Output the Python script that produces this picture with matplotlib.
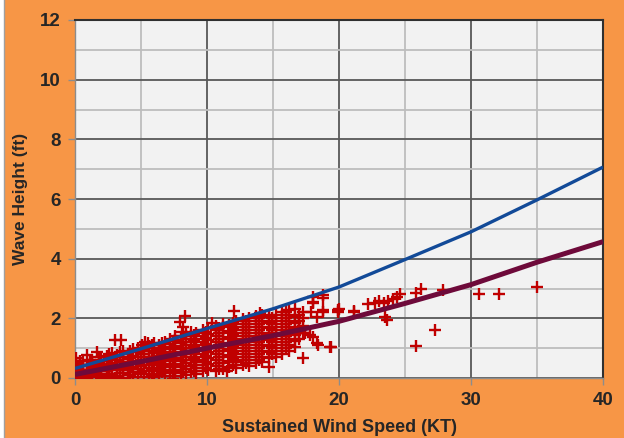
import matplotlib
matplotlib.use("Agg")
import matplotlib.pyplot as plt
from matplotlib.patches import Rectangle
from matplotlib.lines import Line2D

obs_speed = [
    0.1, 0.1, 0.1, 0.1, 0.1,
    0.6, 0.6, 0.6, 0.6, 0.6,
    0.9, 0.9, 0.9, 0.9,
    1.3, 1.3, 1.3, 1.3, 1.3,
    1.64, 1.64, 1.64, 1.64,
    2.0, 2.0, 2.0, 2.0, 2.0,
    2.4, 2.4, 2.4, 2.4, 2.4,
    2.8, 2.8, 2.8, 2.8, 2.8, 2.8,
    3.0, 3.5,
    3.2, 3.2, 3.2, 3.2, 3.2,
    3.6, 3.6, 3.6, 3.6, 3.6, 3.6,
    4.0, 4.0, 4.0, 4.0, 4.0,
    4.4, 4.4, 4.4, 4.4, 4.4, 4.4,
    4.8, 4.8, 4.8, 4.8, 4.8, 4.8,
    5.05, 5.3, 5.55,
    5.2, 5.2, 5.2, 5.2, 5.2, 5.2,
    5.6, 5.6, 5.6, 5.6, 5.6, 5.6,
    6.0, 6.0, 6.0, 6.0, 6.0, 6.0, 6.0,
    6.4, 6.4, 6.4, 6.4, 6.4, 6.4,
    6.8, 6.8, 6.8, 6.8, 6.8, 6.8, 6.8,
    7.2, 7.2, 7.2, 7.2, 7.2, 7.2, 7.2,
    7.45,
    7.6, 7.6, 7.6, 7.6, 7.6, 7.6, 7.6, 7.6,
    7.95, 8.2, 8.33, 8.1,
    8.0, 8.0, 8.0, 8.0, 8.0, 8.0, 8.0,
    8.4, 8.4, 8.4, 8.4, 8.4, 8.4, 8.4, 8.4,
    8.8, 8.8, 8.8, 8.8, 8.8, 8.8, 8.8, 8.8,
    9.2, 9.2, 9.2, 9.2, 9.2, 9.2, 9.2, 9.2,
    9.7, 9.7, 9.7, 9.7, 9.7, 9.7, 9.7, 9.7,
    10.1, 10.1, 10.1, 10.1, 10.1, 10.1, 10.1, 10.1,
    10.4,
    10.7, 10.7, 10.7, 10.7, 10.7, 10.7, 10.7, 10.7, 10.7,
    11.2, 11.2, 11.2, 11.2, 11.2, 11.2, 11.2, 11.2, 11.2,
    11.5,
    11.7, 11.7, 11.7, 11.7, 11.7, 11.7, 11.7, 11.7,
    12.05,
    12.2, 12.2, 12.2, 12.2, 12.2, 12.2, 12.2, 12.2, 12.2,
    12.7, 12.7, 12.7, 12.7, 12.7, 12.7, 12.7, 12.7, 12.7,
    13.2, 13.2, 13.2, 13.2, 13.2, 13.2, 13.2, 13.2, 13.2,
    13.7, 13.7, 13.7, 13.7, 13.7, 13.7, 13.7, 13.7, 13.7,
    14.0,
    14.2, 14.2, 14.2, 14.2, 14.2, 14.2, 14.2, 14.2, 14.2,
    14.7, 14.7, 14.7, 14.7, 14.7, 14.7, 14.7, 14.7, 14.7,
    15.2, 15.2, 15.2, 15.2, 15.2, 15.2, 15.2, 15.2,
    15.7, 15.7, 15.7, 15.7, 15.7, 15.7, 15.7, 15.7,
    16.2, 16.2, 16.2, 16.2, 16.2, 16.2, 16.2, 16.2,
    16.7, 16.7, 16.7, 16.7, 16.7, 16.7, 16.7,
    17.3, 17.3, 17.3, 17.3, 17.3,
    17.4, 17.8, 17.9, 18.05, 18.05, 18.05, 18.05, 18.3, 18.3, 18.4,
    18.8, 18.8, 18.8, 18.8, 19.3, 19.4, 19.95, 19.95, 20.0,
    21.1, 21.1, 22.2, 22.7, 23.0, 23.4, 23.5, 23.6, 23.7, 24.1,
    24.4, 24.6, 25.8, 25.8, 26.2, 27.3, 27.85, 30.6, 32.1, 35.0,
    # filler readings between the columns above (dense core)
    0.35, 0.35, 0.35, 0.35,
    1.1, 1.1, 1.1, 1.1,
    1.85, 1.85, 1.85, 1.85, 1.85,
    2.6, 2.6, 2.6, 2.6, 2.6,
    3.4, 3.4, 3.4, 3.4, 3.4,
    4.2, 4.2, 4.2, 4.2, 4.2,
    5.0, 5.0, 5.0, 5.0, 5.0,
    5.8, 5.8, 5.8, 5.8, 5.8, 5.8,
    6.6, 6.6, 6.6, 6.6, 6.6, 6.6,
    7.4, 7.4, 7.4, 7.4, 7.4, 7.4,
    8.2, 8.2, 8.2, 8.2, 8.2, 8.2, 8.2,
    9.0, 9.0, 9.0, 9.0, 9.0, 9.0, 9.0,
    9.9, 9.9, 9.9, 9.9, 9.9, 9.9, 9.9,
    10.9, 10.9, 10.9, 10.9, 10.9, 10.9, 10.9, 10.9,
    11.95, 11.95, 11.95, 11.95, 11.95, 11.95, 11.95, 11.95,
    12.95, 12.95, 12.95, 12.95, 12.95, 12.95, 12.95, 12.95,
    13.95, 13.95, 13.95, 13.95, 13.95, 13.95, 13.95, 13.95,
    14.95, 14.95, 14.95, 14.95, 14.95, 14.95, 14.95,
    15.95, 15.95, 15.95, 15.95, 15.95, 15.95, 15.95,
    17.0, 17.0, 17.0, 17.0, 17.0,
]
obs_height = [
    0.05, 0.2, 0.35, 0.5, 0.66,
    0.0, 0.12, 0.28, 0.42, 0.58,
    0.08, 0.22, 0.4, 0.77,
    0.02, 0.18, 0.33, 0.5, 0.62,
    0.1, 0.26, 0.45, 0.88,
    0.0, 0.15, 0.3, 0.48, 0.7,
    0.06, 0.22, 0.4, 0.56, 0.74,
    0.0, 0.14, 0.32, 0.5, 0.66, 0.85,
    1.27, 1.27,
    0.08, 0.26, 0.44, 0.6, 0.78,
    0.0, 0.18, 0.36, 0.54, 0.72, 0.9,
    0.1, 0.28, 0.46, 0.64, 0.82,
    0.02, 0.2, 0.38, 0.56, 0.74, 0.96,
    0.12, 0.3, 0.5, 0.7, 0.88, 1.02,
    1.1, 1.22, 1.16,
    0.04, 0.22, 0.42, 0.6, 0.8, 0.98,
    0.14, 0.32, 0.52, 0.72, 0.9, 1.06,
    0.05, 0.25, 0.44, 0.64, 0.84, 1.02, 1.18,
    0.15, 0.35, 0.55, 0.75, 0.95, 1.12,
    0.06, 0.26, 0.46, 0.66, 0.86, 1.05, 1.22,
    0.16, 0.36, 0.56, 0.76, 0.96, 1.15, 1.3,
    -0.02,
    0.08, 0.28, 0.48, 0.68, 0.88, 1.08, 1.26, 1.4,
    1.89, 1.72, 2.08, 1.55,
    0.18, 0.38, 0.58, 0.78, 0.98, 1.18, 1.36,
    0.1, 0.3, 0.5, 0.7, 0.9, 1.1, 1.3, 1.48,
    0.2, 0.4, 0.6, 0.8, 1.0, 1.2, 1.4, 1.55,
    0.12, 0.32, 0.52, 0.72, 0.92, 1.12, 1.32, 1.5,
    0.22, 0.42, 0.62, 0.82, 1.02, 1.22, 1.42, 1.62,
    0.28, 0.48, 0.68, 0.88, 1.08, 1.28, 1.48, 1.66,
    1.85,
    0.22, 0.4, 0.6, 0.8, 1.0, 1.2, 1.4, 1.6, 1.74,
    0.3, 0.5, 0.7, 0.9, 1.1, 1.3, 1.5, 1.7, 1.82,
    0.25,
    0.36, 0.56, 0.76, 0.96, 1.16, 1.36, 1.56, 1.76,
    2.26,
    0.32, 0.52, 0.72, 0.92, 1.12, 1.32, 1.52, 1.72, 1.9,
    0.42, 0.62, 0.82, 1.02, 1.22, 1.42, 1.62, 1.82, 1.98,
    0.4, 0.6, 0.8, 1.0, 1.2, 1.4, 1.6, 1.8, 2.0,
    0.5, 0.7, 0.9, 1.1, 1.3, 1.5, 1.7, 1.9, 2.08,
    2.18,
    0.52, 0.72, 0.92, 1.12, 1.32, 1.52, 1.72, 1.92, 2.1,
    0.38, 0.66, 0.86, 1.06, 1.26, 1.46, 1.66, 1.86, 2.05,
    0.7, 0.9, 1.1, 1.3, 1.5, 1.7, 1.9, 2.12,
    0.82, 1.02, 1.22, 1.42, 1.62, 1.82, 2.0, 2.2,
    0.9, 1.1, 1.3, 1.5, 1.7, 1.9, 2.1, 2.28,
    1.05, 1.25, 1.45, 1.65, 1.85, 2.05, 2.3,
    0.66, 1.5, 1.75, 2.0, 2.2,
    1.5, 1.44, 2.22, 1.36, 2.56, 2.73, 2.5, 1.16, 2.05, 1.1,
    2.22, 2.67, 2.28, 2.78, 1.05, 1.05, 2.22, 2.28, 2.3,
    2.26, 2.22, 2.48, 2.52, 2.59, 2.52, 2.05, 1.94, 2.59, 2.64,
    2.73, 2.82, 1.07, 2.86, 3.0, 1.6, 2.95, 2.8, 2.8, 3.06,
    # filler readings
    0.12, 0.27, 0.43, 0.56,
    0.1, 0.27, 0.45, 0.6,
    0.06, 0.22, 0.38, 0.55, 0.72,
    0.13, 0.3, 0.48, 0.64, 0.8,
    0.17, 0.35, 0.52, 0.7, 0.86,
    0.1, 0.3, 0.5, 0.68, 0.9,
    0.2, 0.4, 0.6, 0.8, 0.98,
    0.1, 0.3, 0.5, 0.7, 0.9, 1.1,
    0.2, 0.4, 0.6, 0.8, 1.0, 1.18,
    0.25, 0.45, 0.65, 0.85, 1.05, 1.25,
    0.2, 0.4, 0.6, 0.8, 1.0, 1.2, 1.4,
    0.25, 0.45, 0.65, 0.85, 1.05, 1.25, 1.45,
    0.35, 0.55, 0.75, 0.95, 1.15, 1.35, 1.55,
    0.3, 0.5, 0.7, 0.9, 1.1, 1.3, 1.5, 1.68,
    0.45, 0.65, 0.85, 1.05, 1.25, 1.45, 1.65, 1.84,
    0.5, 0.7, 0.9, 1.1, 1.3, 1.5, 1.7, 1.9,
    0.6, 0.8, 1.0, 1.2, 1.4, 1.6, 1.8, 2.0,
    0.8, 1.0, 1.2, 1.4, 1.6, 1.8, 2.0,
    1.0, 1.2, 1.4, 1.6, 1.8, 2.0, 2.2,
    1.3, 1.5, 1.7, 1.9, 2.1,
]

# the two fitted curves
curve_speed = [0, 5, 10, 15, 20, 25, 30, 35, 40]
blue_height = [0.32, 0.98, 1.66, 2.32, 3.05, 3.97, 4.9, 5.97, 7.07]
maroon_height = [0.12, 0.55, 1.0, 1.42, 1.9, 2.5, 3.13, 3.88, 4.57]

ORANGE = '#F79646'
TXT = '#262626'

fig = plt.figure(figsize=(6.24, 4.38), dpi=100, facecolor=ORANGE)
ax = fig.add_axes([75/624, 60/438, 528/624, 358/438])
ax.set_facecolor('#F2F2F2')

# white strip + border line on the far left, like the source screenshot
fig.patches.append(Rectangle((0, 0), 4/624, 1, transform=fig.transFigure,
                             facecolor='white', edgecolor='none', zorder=0))
fig.lines.append(Line2D([4/624, 4/624], [0, 1], transform=fig.transFigure,
                        color='#A0A0A0', lw=1))

ax.plot(obs_speed, obs_height, linestyle='none', marker='+', markersize=9,
        markeredgewidth=1.7, color='#C00000', zorder=3)
ax.plot(curve_speed, blue_height, color='#124A98', lw=2.4, zorder=4,
        solid_capstyle='butt')
ax.plot(curve_speed, maroon_height, color='#6E0A3A', lw=3.6, zorder=4,
        solid_capstyle='butt')

ax.set_xlim(0, 40)
ax.set_ylim(0, 12)
ax.set_xticks(range(0, 41, 10))
ax.set_yticks(range(0, 13, 2))
ax.set_xticks(range(0, 41, 5), minor=True)
ax.set_yticks(range(0, 13, 1), minor=True)
ax.grid(which='major', color='#595959', lw=1.3, zorder=1)
ax.grid(which='minor', color='#BDBDBD', lw=1.3, zorder=0.5)
ax.set_axisbelow(True)

for side in ['top', 'right']:
    ax.spines[side].set_color('#303030')
    ax.spines[side].set_linewidth(1.5)
for side in ['left', 'bottom']:
    ax.spines[side].set_color('#8C8C8C')
    ax.spines[side].set_linewidth(1.0)

ax.tick_params(which='major', length=5, width=1, color='#8C8C8C',
               labelsize=13.5, labelcolor=TXT, pad=5)
ax.tick_params(which='minor', length=0)
for lab in ax.get_xticklabels() + ax.get_yticklabels():
    lab.set_fontweight('bold')
    lab.set_family('Liberation Sans')

ax.set_xlabel('Sustained Wind Speed (KT)', fontsize=13, fontweight='bold',
              family='Liberation Sans', color=TXT, labelpad=7)
ax.set_ylabel('Wave Height (ft)', fontsize=12.5, fontweight='bold',
              family='Liberation Sans', color=TXT, labelpad=9)

fig.savefig('out.png', dpi=100, facecolor=ORANGE)
